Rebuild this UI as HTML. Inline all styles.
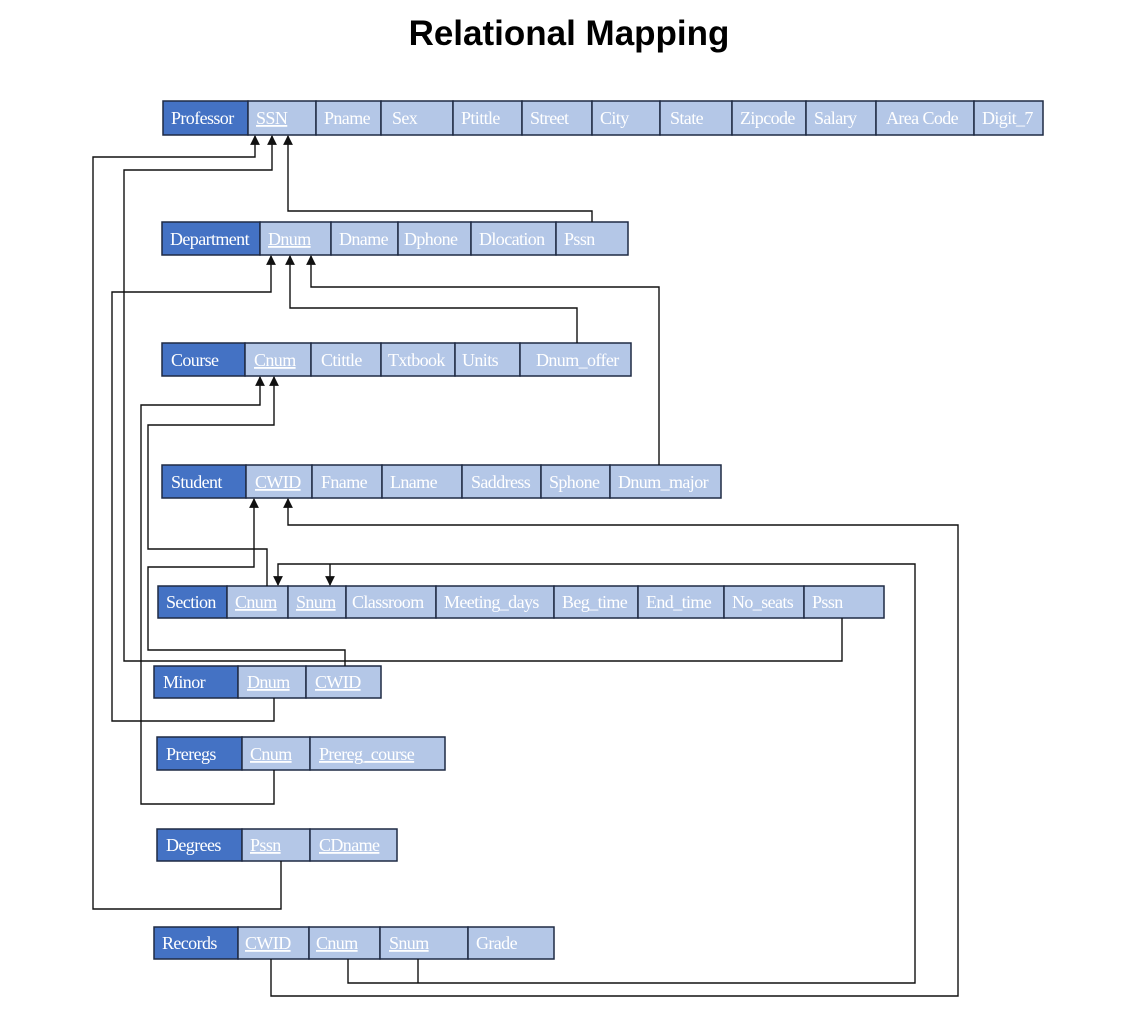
<!DOCTYPE html>
<html><head><meta charset="utf-8"><style>
body{margin:0;background:#fff;}
svg{display:block;}
.d{fill:#4472c4;stroke:#1f2a44;stroke-width:1.5}
.l{fill:#b4c7e7;stroke:#1f2a44;stroke-width:1.5}
text.t{font-family:"Liberation Serif",serif;font-size:18px;fill:#fff;letter-spacing:-0.6px}
.u{text-decoration:underline}
.c{fill:none;stroke:#111;stroke-width:1.4}
</style></head><body>
<svg width="1136" height="1020" viewBox="0 0 1136 1020" xmlns="http://www.w3.org/2000/svg">
<defs><marker id="a" viewBox="0 0 10 10" refX="9" refY="5" markerWidth="7" markerHeight="8" orient="auto"><path d="M0,0 L10,5 L0,10 z" fill="#111"/></marker></defs>
<text x="569" y="45" text-anchor="middle" style="font-family:'Liberation Sans',sans-serif;font-weight:bold;font-size:35px;fill:#000">Relational Mapping</text>

<g>
<rect class="d" x="163" y="101" width="85" height="34"/>
<rect class="l" x="248" y="101" width="68" height="34"/><rect class="l" x="316" y="101" width="65" height="34"/><rect class="l" x="381" y="101" width="72" height="34"/><rect class="l" x="453" y="101" width="69" height="34"/><rect class="l" x="522" y="101" width="70" height="34"/><rect class="l" x="592" y="101" width="68" height="34"/><rect class="l" x="660" y="101" width="72" height="34"/><rect class="l" x="732" y="101" width="74" height="34"/><rect class="l" x="806" y="101" width="70" height="34"/><rect class="l" x="876" y="101" width="98" height="34"/><rect class="l" x="974" y="101" width="69" height="34"/>
<text class="t" x="171" y="124">Professor</text><text class="t u" x="256" y="124">SSN</text><text class="t" x="324" y="124">Pname</text><text class="t" x="392" y="124">Sex</text><text class="t" x="461" y="124">Ptittle</text><text class="t" x="530" y="124">Street</text><text class="t" x="600" y="124">City</text><text class="t" x="670" y="124">State</text><text class="t" x="740" y="124">Zipcode</text><text class="t" x="814" y="124">Salary</text><text class="t" x="886" y="124">Area Code</text><text class="t" x="982" y="124">Digit_7</text>
</g>
<g>
<rect class="d" x="162" y="222" width="98" height="33"/>
<rect class="l" x="260" y="222" width="71" height="33"/><rect class="l" x="331" y="222" width="67" height="33"/><rect class="l" x="398" y="222" width="73" height="33"/><rect class="l" x="471" y="222" width="85" height="33"/><rect class="l" x="556" y="222" width="72" height="33"/>
<text class="t" x="170" y="245">Department</text><text class="t u" x="268" y="245">Dnum</text><text class="t" x="339" y="245">Dname</text><text class="t" x="404" y="245">Dphone</text><text class="t" x="479" y="245">Dlocation</text><text class="t" x="564" y="245">Pssn</text>
</g>
<g>
<rect class="d" x="162" y="343" width="83" height="33"/>
<rect class="l" x="245" y="343" width="66" height="33"/><rect class="l" x="311" y="343" width="70" height="33"/><rect class="l" x="381" y="343" width="74" height="33"/><rect class="l" x="455" y="343" width="65" height="33"/><rect class="l" x="520" y="343" width="111" height="33"/>
<text class="t" x="171" y="366">Course</text><text class="t u" x="254" y="366">Cnum</text><text class="t" x="321" y="366">Ctittle</text><text class="t" x="388" y="366">Txtbook</text><text class="t" x="462" y="366">Units</text><text class="t" x="536" y="366">Dnum_offer</text>
</g>
<g>
<rect class="d" x="162" y="465" width="84" height="33"/>
<rect class="l" x="246" y="465" width="66" height="33"/><rect class="l" x="312" y="465" width="70" height="33"/><rect class="l" x="382" y="465" width="80" height="33"/><rect class="l" x="462" y="465" width="79" height="33"/><rect class="l" x="541" y="465" width="69" height="33"/><rect class="l" x="610" y="465" width="111" height="33"/>
<text class="t" x="171" y="488">Student</text><text class="t u" x="255" y="488">CWID</text><text class="t" x="321" y="488">Fname</text><text class="t" x="390" y="488">Lname</text><text class="t" x="471" y="488">Saddress</text><text class="t" x="549" y="488">Sphone</text><text class="t" x="618" y="488">Dnum_major</text>
</g>
<g>
<rect class="d" x="158" y="586" width="69" height="32"/>
<rect class="l" x="227" y="586" width="61" height="32"/><rect class="l" x="288" y="586" width="58" height="32"/><rect class="l" x="346" y="586" width="90" height="32"/><rect class="l" x="436" y="586" width="118" height="32"/><rect class="l" x="554" y="586" width="84" height="32"/><rect class="l" x="638" y="586" width="86" height="32"/><rect class="l" x="724" y="586" width="80" height="32"/><rect class="l" x="804" y="586" width="80" height="32"/>
<text class="t" x="166" y="608">Section</text><text class="t u" x="235" y="608">Cnum</text><text class="t u" x="296" y="608">Snum</text><text class="t" x="352" y="608">Classroom</text><text class="t" x="444" y="608">Meeting_days</text><text class="t" x="562" y="608">Beg_time</text><text class="t" x="646" y="608">End_time</text><text class="t" x="732" y="608">No_seats</text><text class="t" x="812" y="608">Pssn</text>
</g>
<g>
<rect class="d" x="154" y="666" width="84" height="32"/>
<rect class="l" x="238" y="666" width="68" height="32"/><rect class="l" x="306" y="666" width="75" height="32"/>
<text class="t" x="163" y="688">Minor</text><text class="t u" x="247" y="688">Dnum</text><text class="t u" x="315" y="688">CWID</text>
</g>
<g>
<rect class="d" x="157" y="737" width="85" height="33"/>
<rect class="l" x="242" y="737" width="68" height="33"/><rect class="l" x="310" y="737" width="135" height="33"/>
<text class="t" x="166" y="760">Preregs</text><text class="t u" x="250" y="760">Cnum</text><text class="t u" x="319" y="760">Prereg_course</text>
</g>
<g>
<rect class="d" x="157" y="829" width="85" height="32"/>
<rect class="l" x="242" y="829" width="68" height="32"/><rect class="l" x="310" y="829" width="87" height="32"/>
<text class="t" x="166" y="851">Degrees</text><text class="t u" x="250" y="851">Pssn</text><text class="t u" x="319" y="851">CDname</text>
</g>
<g>
<rect class="d" x="154" y="927" width="84" height="32"/>
<rect class="l" x="238" y="927" width="71" height="32"/><rect class="l" x="309" y="927" width="71" height="32"/><rect class="l" x="380" y="927" width="88" height="32"/><rect class="l" x="468" y="927" width="86" height="32"/>
<text class="t" x="162" y="949">Records</text><text class="t u" x="245" y="949">CWID</text><text class="t u" x="316" y="949">Cnum</text><text class="t u" x="389" y="949">Snum</text><text class="t" x="476" y="949">Grade</text>
</g>

<path class="c" marker-end="url(#a)" d="M281,861 V909 H93 V157 H255 V136"/>
<path class="c" marker-end="url(#a)" d="M842,618 V661 H124 V170 H272 V136"/>
<path class="c" marker-end="url(#a)" d="M592,222 V211 H288 V136"/>
<path class="c" marker-end="url(#a)" d="M274,698 V721 H112 V292 H271 V256"/>
<path class="c" marker-end="url(#a)" d="M577,343 V308 H290 V256"/>
<path class="c" marker-end="url(#a)" d="M659,465 V287 H311 V256"/>
<path class="c" marker-end="url(#a)" d="M274,770 V804 H141 V405 H260 V377"/>
<path class="c" marker-end="url(#a)" d="M267,586 V549 H148 V425 H274 V377"/>
<path class="c" marker-end="url(#a)" d="M345,666 V650 H148 V567 H254 V499"/>
<path class="c" marker-end="url(#a)" d="M271,959 V996 H958 V525 H288 V499"/>
<path class="c" marker-end="url(#a)" d="M348,959 V983 H915 V564 H278 V585"/>
<path class="c" d="M418,959 V983"/>
<path class="c" marker-end="url(#a)" d="M330,564 V585"/>
</svg>
</body></html>
